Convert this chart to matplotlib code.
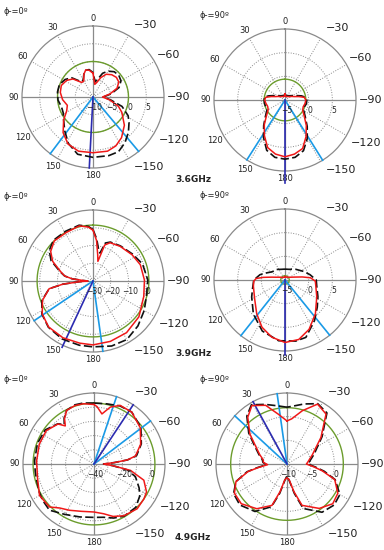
import numpy as np
import matplotlib.pyplot as plt

# ---------------------------------------------------------------------------
# values: angle (deg, ccw from top) and gain (dB)
# ---------------------------------------------------------------------------
# 3.6 GHz, phi = 0
p1_red_ang = [0, 8, 15, 22, 30, 38, 48, 58, 70, 82, 95, 108, 118, 128, 140, 152, 165, 180,
              -165, -155, -145, -132, -118, -110, -100, -90, -80, -70, -60, -50, -40, -30, -22, -15, -8]
p1_red_db = [-3.3, -2.4, -2.1, -3.1, -4.8, -4.8, -2.4, -1.2, -0.5, -0.7, -1.4, -2.4, -1.6, 0.5, 3.1, 5.0, 5.8, 5.7,
             5.8, 5.2, 4.0, 1.9, -0.8, -2.4, -5.2, -7.3, -5.2, -2.8, -1.6, -1.4, -1.8, -2.6, -4.1, -5.7, -6.4]
p1_blk_ang = [0, 8, 15, 22, 30, 38, 48, 58, 70, 82, 95, 108, 118, 128, 140, 152, 165, 180,
              -165, -155, -145, -135, -125, -118, -108, -100, -90, -80, -70, -60, -50, -40, -30, -22, -15, -8]
p1_blk_db = [-3.1, -2.2, -2.2, -3.1, -4.5, -4.5, -1.9, -0.7, 0.1, 0.1, -0.1, -0.7, -0.5, 0.5, 2.4, 4.8, 6.7, 7.0,
             7.1, 7.0, 5.7, 4.1, 2.4, 1.2, -1.4, -4.8, -7.1, -4.8, -2.2, -0.9, -0.5, -0.7, -1.6, -2.8, -4.8, -5.7]

# 3.6 GHz, phi = 90
p2_red_ang = [0, 8, 20, 35, 50, 62, 70, 76, 82, 90, 100, 110, 120, 130, 140, 150, 160, 170, 180,
              -170, -160, -150, -140, -130, -120, -110, -100, -90, -82, -76, -70, -62, -50, -35, -20, -8]
p2_red_db = [-3.7, -4.2, -4.2, -4.1, -3.9, -3.4, -2.9, -2.0, -0.9, -0.7, -0.9, -1.1, -0.9, 0.1, 1.8, 3.7, 5.7, 6.6, 7.0,
             6.6, 5.9, 3.9, 2.0, 0.3, -0.7, -0.9, -0.7, -0.6, -0.9, -2.0, -2.9, -3.4, -3.9, -4.1, -4.2, -4.2]
p2_blk_ang = p2_red_ang
p2_blk_db = [-3.6, -4.0, -4.0, -3.9, -3.6, -3.0, -2.3, -1.4, -0.6, -0.6, -0.6, -0.7, -0.6, 0.4, 2.0, 4.1, 6.3, 7.3, 7.5,
             7.3, 6.4, 4.4, 2.3, 0.6, -0.4, -0.7, -0.4, -0.4, -0.7, -1.4, -2.3, -3.0, -3.6, -3.9, -4.0, -4.0]

# 3.9 GHz, phi = 0
p3_red_ang = [0, 5, 14, 29, 44, 55, 64, 74, 80, 84, 87, 90, 93, 96, 100, 111, 123, 136, 152, 168, 180,
              -164, -147, -128, -107, -89, -71, -56, -38, -24, -18, -14, -10, -5]
p3_red_db = [-1.4, 0.5, 2.0, 1.2, 1.4, -0.9, -4.7, -11.1, -13.8, -18.2, -24.3, -27.1, -22.4, -12.9, -4.9, 0.5, 4.1,
             6.0, 6.2, 5.8, 6.0, 5.4, 4.7, 2.8, -0.1, -1.0, -1.8, -3.5, -5.2, -6.4, -8.7, -18.6, -14.8, -7.1]
p3_blk_ang = [0, 5, 14, 29, 44, 55, 64, 74, 80, 84, 87, 90, 93, 96, 100, 111, 123, 136, 152, 168, 180,
              -164, -150, -135, -120, -107, -89, -71, -56, -38, -24, -18, -14, -10, -5]
p3_blk_db = [-1.0, 0.9, 2.4, 2.0, 2.0, 0.1, -3.7, -10.6, -13.8, -18.2, -24.3, -27.1, -22.4, -12.9, -4.9, 0.9, 4.3,
             6.2, 7.0, 7.0, 7.1, 8.1, 8.1, 5.8, 3.3, 1.4, 0.9, -0.5, -3.0, -4.9, -6.0, -7.5, -13.8, -11.9, -6.2]

# 3.9 GHz, phi = 90
p4_red_ang = [0, 20, 40, 55, 65, 72, 78, 83, 87, 92, 101, 121, 140, 154, 167, 180,
              -167, -154, -138, -118, -100, -92, -85, -80, -73, -65, -50, -30]
p4_red_db = [-4.3, -4.4, -4.3, -4.0, -3.6, -3.1, -2.1, -0.4, 1.1, 1.6, 1.8, 2.5, 4.3, 6.1, 7.4, 8.2,
             7.9, 6.6, 4.6, 2.6, 1.6, 1.4, 0.4, -1.3, -2.9, -3.6, -4.1, -4.3]
p4_blk_ang = [0, 20, 40, 57, 70, 78, 90, 105, 117, 137, 156, 174,
              -170, -160, -144, -130, -117, -100, -90, -78, -66, -45, -20]
p4_blk_db = [-2.7, -2.6, -2.1, -1.8, -0.7, 0.4, 1.6, 2.1, 2.9, 4.8, 6.8, 7.9,
             8.1, 7.9, 5.6, 3.9, 2.8, 1.8, 1.6, 0.4, -0.6, -1.8, -2.6]

# 4.9 GHz, phi = 0
p5_red_ang = [0, 10, 18, 27, 33, 37, 42, 55, 70, 87, 104, 120, 134, 142, 152, 165, 180,
              -169, -160, -150, -136, -125, -118, -108, -100, -95, -90, -86, -83, -79, -67, -52, -36, -24, -16, -9, -3]
p5_red_db = [1.9, 3.1, 3.3, 2.4, -1.9, -6.4, -2.1, 1.0, 1.0, 0.5, 1.0, 4.3, 3.6, -0.7, -3.1, -5.5, -6.2,
             -4.3, -0.7, 2.1, 3.8, 2.9, 1.9, -3.1, -13.8, -26.9, -33.3, -25.7, -16.2, -10.2, -4.3, 1.4, 5.2, 5.2,
             1.7, -4.3, 0.5]
p5_blk_ang = [0, 10, 18, 27, 33, 37, 42, 55, 70, 87, 97, 104, 117, 125, 136, 150, 165, 180,
              -170, -160, -150, -136, -125, -118, -107, -100, -95, -90, -86, -83, -79, -67, -52, -36, -24, -12]
p5_blk_db = [2.9, 3.6, 3.8, 2.4, -1.4, -5.2, -1.9, 1.9, 2.4, 1.9, 1.7, 1.9, 3.3, 4.3, 5.2, 1.0, -1.4, -2.4,
             -1.9, 0.5, 2.4, 2.4, -0.7, -4.0, -9.5, -16.2, -26.9, -33.3, -25.7, -16.2, -9.5, -3.8, 1.9, 5.2, 4.8, 3.3]

# 4.9 GHz, phi = 90
p6_red_ang = [0, 10, 20, 31, 40, 51, 59, 71, 80, 86, 92, 97, 101, 109, 119, 131, 146, 160, 166, 172, 180,
              -172, -166, -160, -144, -131, -120, -108, -101, -96, -90, -85, -70, -52, -38, -27, -16, -6]
p6_red_db = [-0.9, 0.7, 3.2, 4.4, 2.9, 0.1, -2.1, -3.9, -4.9, -5.0, -5.9, -3.9, -1.6, 1.4, 2.7, 2.8, 1.4, -0.7,
             -4.0, -6.6, -7.1, -6.6, -4.0, -0.7, 1.6, 2.8, 2.4, 0.6, -2.4, -4.3, -5.9, -5.6, -4.3, -0.9, 3.4, 4.2,
             1.7, -0.4]
p6_blk_ang = p6_red_ang
p6_blk_db = [2.0, 2.5, 3.4, 4.6, 3.2, 0.4, -1.8, -3.7, -4.7, -4.9, -5.6, -3.7, -1.4, 1.4, 2.9, 3.2, 2.1, -0.4,
             -3.6, -6.4, -7.5, -6.4, -3.6, 0.0, 2.6, 3.2, 2.9, 0.7, -2.0, -4.0, -5.6, -5.3, -3.9, -0.6, 3.7, 4.3,
             3.2, 2.3]

# reference circle level (dB) and beam direction lines (deg)
green_db = [0.0, -0.6, 1.5, -4.1, 2.9, 1.9]
light_blue_ang = [[143, -140], [147.5, -148], [124, -172], [141.6, -141], [-18.5, -52.7], [8, 47.3]]
dark_blue_ang = [177, 180, 155, 180, -33.5, 28.6]

titles = ['ϕ-=0º', 'ϕ-=90º'] * 3
freqs = ['3.6GHz', '3.9GHz', '4.9GHz']

# ---------------------------------------------------------------------------
# layout / styling
# ---------------------------------------------------------------------------
FIG_W, FIG_H = 384, 550
R_PX = 71
CENTERS = [(93, 97), (285, 100), (93, 281), (285, 280), (94, 464), (287, 464)]
RLIMS = [(-10, 10), (-5, 10), (-30, 10), (-5, 10), (-40, 10), (-10, 5)]
RINGS = [[-5, 0, 5], [0, 5], [-20, -10, 0], [0, 5], [-30, -20, -10, 0], [-5, 0]]
RLABELS = [[-10, -5, 0, 5], [-5, 0, 5], [-30, -20, -10, 0], [-5, 0, 5], [-40, -20, 0], [-10, -5, 0]]
DARK_EXT = [1.0, 1.17, 1.03, 1.05, 1.0, 1.0]

COL_RED = '#f01818'
COL_BLK = '#111111'
COL_GRN = '#6b9c2c'
COL_LB = '#1a9ae6'
COL_DB = '#2b2bb0'
COL_GRID = '#8a8a8a'
COL_TXT = '#222222'

LEFT_LBL = [(0, '0', 1.10), (30, '30', 1.13), (60, '60', 1.14), (90, '90', 1.12),
            (120, '120', 1.14), (150, '150', 1.13), (180, '180', 1.10)]
RIGHT_LBL = [(-36, '\u221230', 1.25), (-61, '\u221260', 1.22), (-90, '\u221290', 1.21),
             (-118, '\u2212120', 1.30), (-141, '\u2212150', 1.26)]

red_ang = [p1_red_ang, p2_red_ang, p3_red_ang, p4_red_ang, p5_red_ang, p6_red_ang]
red_db = [p1_red_db, p2_red_db, p3_red_db, p4_red_db, p5_red_db, p6_red_db]
blk_ang = [p1_blk_ang, p2_blk_ang, p3_blk_ang, p4_blk_ang, p5_blk_ang, p6_blk_ang]
blk_db = [p1_blk_db, p2_blk_db, p3_blk_db, p4_blk_db, p5_blk_db, p6_blk_db]


def closed(ang, db):
    a = np.mod(np.asarray(ang, float), 360)
    a = np.append(a, a[0] + 360)
    return np.radians(a), np.append(db, db[0])


fig = plt.figure(figsize=(FIG_W / 100, FIG_H / 100), dpi=100)
fig.patch.set_facecolor('white')

for i in range(6):
    cx, cy = CENTERS[i]
    rmin, rmax = RLIMS[i]
    ax = fig.add_axes([(cx - R_PX) / FIG_W, 1 - (cy + R_PX) / FIG_H,
                       2 * R_PX / FIG_W, 2 * R_PX / FIG_H], projection='polar')
    ax.set_theta_zero_location('N')
    ax.set_theta_direction(1)
    ax.set_ylim(rmin, rmax)
    ax.set_yticks(RINGS[i])
    ax.set_yticklabels([])
    ax.set_xticks(np.radians(np.arange(0, 360, 30)))
    ax.set_xticklabels([])
    ax.grid(True, color=COL_GRID, linestyle=(0, (1, 1.6)), linewidth=0.7)
    ax.spines['polar'].set_color(COL_GRID)
    ax.spines['polar'].set_linewidth(0.9)
    ax.tick_params(length=0)

    # solid cross
    for a in (0, 90, 180, 270):
        ax.plot([np.radians(a)] * 2, [rmin, rmax], color=COL_GRID, lw=0.9, zorder=2)

    # angle labels
    for th, s, f in LEFT_LBL:
        t = np.radians(th)
        ax.text(0.5 - 0.5 * f * np.sin(t), 0.5 + 0.5 * f * np.cos(t), s, transform=ax.transAxes,
                ha='center', va='center', fontsize=6, color=COL_TXT)
    for th, s, f in RIGHT_LBL:
        t = np.radians(th)
        ax.text(0.5 - 0.5 * f * np.sin(t), 0.5 + 0.5 * f * np.cos(t), s, transform=ax.transAxes,
                ha='center', va='center', fontsize=8, color=COL_TXT)

    # radial labels under the -90 axis
    for v in RLABELS[i]:
        x = 0.5 + 0.5 * (v - rmin) / (rmax - rmin) + 0.01
        ax.text(x, 0.425, str(v).replace('-', '\u2212'), transform=ax.transAxes,
                ha='center', va='center', fontsize=5.5, color=COL_TXT, zorder=6)

    # reference circle
    circ = np.radians(np.linspace(0, 360, 361))
    ax.plot(circ, np.full_like(circ, green_db[i]), color=COL_GRN, lw=1.0, zorder=3)

    # beam lines
    for a in light_blue_ang[i]:
        ax.plot([np.radians(a)] * 2, [rmin, rmax], color=COL_LB, lw=1.2, zorder=4, clip_on=False)
    ax.plot([np.radians(dark_blue_ang[i])] * 2, [rmin, rmin + DARK_EXT[i] * (rmax - rmin)],
            color=COL_DB, lw=1.2, zorder=4, clip_on=False)

    # patterns
    ta, ra = closed(blk_ang[i], blk_db[i])
    ax.plot(ta, ra, color=COL_BLK, lw=1.2, dashes=(5, 2), zorder=5)
    ta, ra = closed(red_ang[i], red_db[i])
    ax.plot(ta, ra, color=COL_RED, lw=1.1, zorder=5)

    # panel title
    tx = 3 if cx < 192 else 200
    fig.text(tx / FIG_W, 1 - (cy - 85) / FIG_H, titles[i], fontsize=6, color=COL_TXT,
             ha='left', va='center')

for k, fy in enumerate([179, 354, 537]):
    fig.text(175 / FIG_W, 1 - fy / FIG_H, freqs[k], fontsize=6.5, fontweight='bold',
             color=COL_TXT, ha='left', va='center')

fig.savefig('out.png', dpi=100, facecolor='white')
